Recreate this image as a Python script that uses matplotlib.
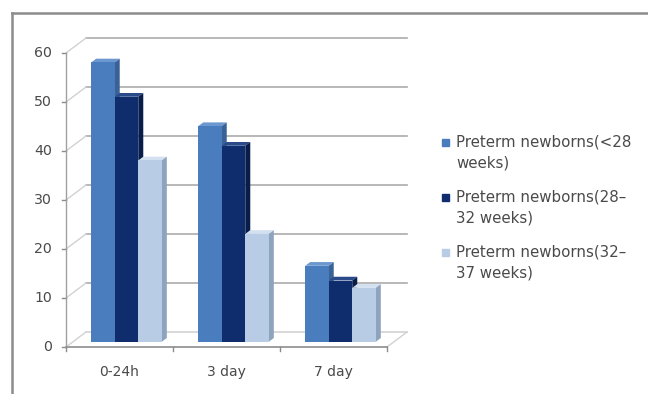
import matplotlib.pyplot as plt
import numpy as np
from matplotlib.patches import Polygon, Rectangle
from matplotlib.lines import Line2D

categories = ['0-24h', '3 day', '7 day']
series_names = ['Preterm newborns(<28\nweeks)',
                'Preterm newborns(28\u2013\n32 weeks)',
                'Preterm newborns(32\u2013\n37 weeks)']
under_28 = [57, 44, 15.5]
weeks_28_32 = [50, 40, 12.5]
weeks_32_37 = [37, 22, 11]
y_ticks = [0, 10, 20, 30, 40, 50, 60]

front_colors = ['#4a7dbe', '#0f2d6c', '#b8cce6']
side_colors = ['#3a6296', '#081d4a', '#8ea3be']
top_colors = ['#6c98cf', '#2a4a8a', '#d3e0f0']

plt.rcParams['font.family'] = ['DejaVu Sans']
text_c = '#4a4a4a'

W, H = 648, 394
# pixel layout of the front plane: category centre / value zero
X0, SX = 119.5, 107.0
Y0, SY = 347.0, 4.9
DX, DY = 20.0 / SX, 15.0 / SY      # full depth of the plot box in data units

fig = plt.figure(figsize=(W / 100, H / 100), dpi=100)
ax = fig.add_axes([0, 0, 1, 1])
ax.set_xlim(-X0 / SX, (W - X0) / SX)
ax.set_ylim((Y0 - H) / SY, Y0 / SY)
ax.axis('off')

grid_c = '#ababab'
wall_c = '#d2d2d2'
left, right = -0.5, len(categories) - 0.5
ymax = y_ticks[-1]

# back wall gridlines and side wall diagonals
for v in y_ticks:
    ax.plot([left + DX, right + DX], [v + DY, v + DY], color=grid_c if v > 0 else wall_c,
            lw=1.2, zorder=1)
    ax.plot([left, left + DX], [v, v + DY], color=wall_c, lw=1.0, zorder=1)
    ax.plot([left - 0.035, left], [v, v], color='#8c8c8c', lw=1.0, zorder=2)
    ax.text(left - 0.13, v, str(v), ha='right', va='center', fontsize=10.2, color=text_c)

# floor outline and front value axis
ax.plot([left, right], [0, 0], color='#8c8c8c', lw=1.2, zorder=2)
ax.plot([right, right + DX], [0, DY], color=wall_c, lw=1.0, zorder=1)
ax.plot([left, left], [0, ymax], color='#a0a0a0', lw=1.0, zorder=2)
for k in range(len(categories) + 1):
    ax.plot([left + k, left + k], [0, -0.9], color='#8c8c8c', lw=1.0, zorder=2)

for i, name in enumerate(categories):
    ax.text(i, -5.1, name, ha='center', va='center', fontsize=10, color=text_c)

# 3d columns: front face via bar, plus top and side faces
d0, d1 = 0.35, 0.6
bw = 0.22
series = [under_28, weeks_28_32, weeks_32_37]
x = np.arange(len(categories))
for j, vals in enumerate(series):
    lefts = x - 0.33 + bw * j + d0 * DX
    ax.bar(lefts, vals, width=bw, bottom=d0 * DY, align='edge',
           color=front_colors[j], edgecolor='none', zorder=5)
    sx, sy = (d1 - d0) * DX, (d1 - d0) * DY
    for l, v in zip(lefts, vals):
        top = v + d0 * DY
        r = l + bw
        ax.add_patch(Polygon([(l, top), (r, top), (r + sx, top + sy), (l + sx, top + sy)],
                             closed=True, color=top_colors[j], lw=0, zorder=4))
        ax.add_patch(Polygon([(r, d0 * DY), (r + sx, d0 * DY + sy), (r + sx, top + sy), (r, top)],
                             closed=True, color=side_colors[j], lw=0, zorder=4))

# legend: square plus two text lines per series
for j, name in enumerate(series_names):
    y_px = 142 + 55 * j
    fig.add_artist(Rectangle((442 / W, 1 - (y_px + 3.5) / H), 7 / W, 7 / H,
                             transform=fig.transFigure, color=front_colors[j]))
    for k, line in enumerate(name.split('\n')):
        fig.text(456 / W, 1 - (y_px + 21 * k) / H, line, ha='left', va='center',
                 fontsize=10.8, color=text_c)

# chart area border (top and left edges)
fig.add_artist(Line2D([12 / W, 1], [1 - 13 / H, 1 - 13 / H], transform=fig.transFigure,
                      color='#8c8c8c', lw=1.8))
fig.add_artist(Line2D([12 / W, 12 / W], [0, 1 - 13 / H], transform=fig.transFigure,
                      color='#8c8c8c', lw=1.8))

fig.savefig('out.png', dpi=100)
